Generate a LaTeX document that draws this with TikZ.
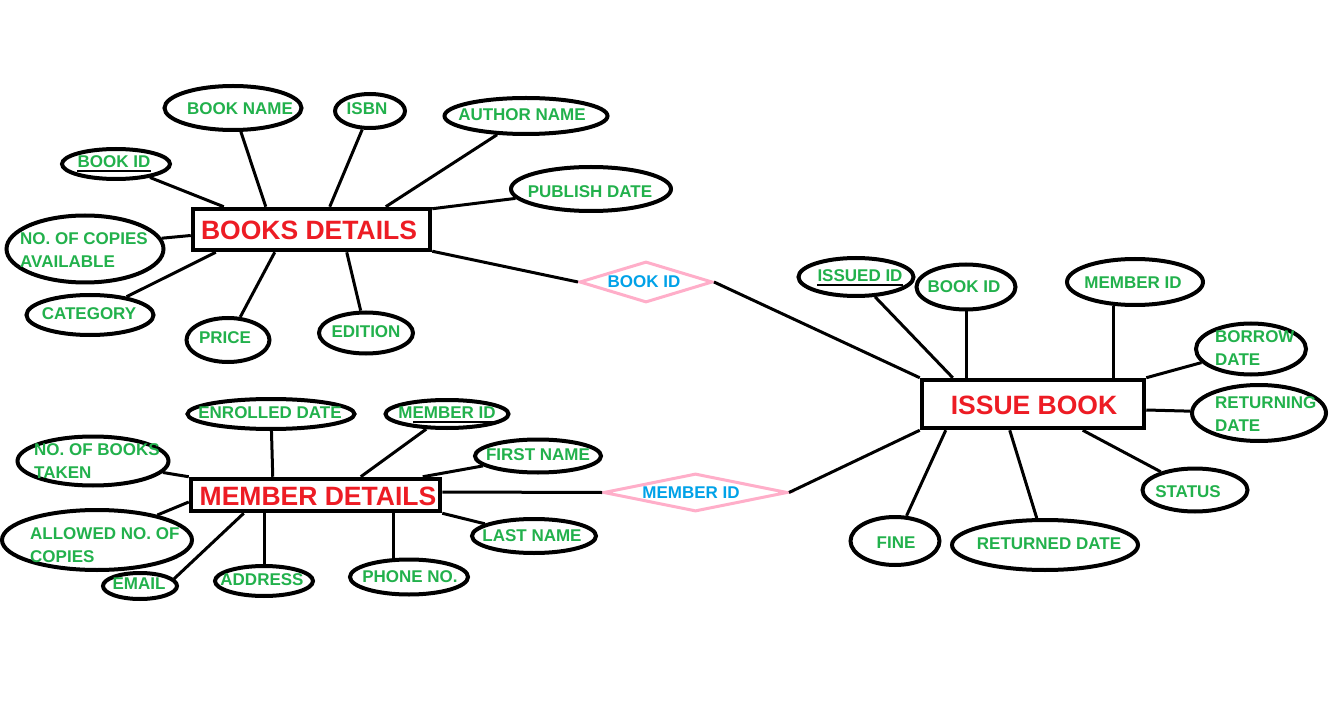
\documentclass[tikz,border=0pt]{standalone}
\usepackage{fontspec}
\setmainfont{Liberation Sans}
\usetikzlibrary{shapes.geometric}
\definecolor{tgreen}{HTML}{22B14C}
\definecolor{tred}{HTML}{ED1C24}
\definecolor{tblue}{HTML}{00A2E8}
\definecolor{tpink}{HTML}{FFAEC9}
\begin{document}
\begin{tikzpicture}[x=1pt,y=-1pt,
  attr/.style={ellipse, draw=black, line width=4pt, inner sep=0pt},
  lbl/.style={text=tgreen, font=\fontsize{17}{23}\selectfont\bfseries, inner sep=0pt},
  mlbl/.style={lbl, align=left, anchor=west},
  ent/.style={draw=black, line width=4.5pt, fill=white, inner sep=0pt},
  etxt/.style={text=tred, font=\fontsize{26.5}{30}\selectfont\bfseries, inner sep=0pt},
  rel/.style={diamond, draw=tpink, line width=3pt, inner sep=0pt},
  rtxt/.style={text=tblue, font=\fontsize{17}{20}\selectfont\bfseries, inner sep=0pt},
  conn/.style={line width=3pt},
  uline/.style={line width=2pt}]
\useasboundingbox[fill=white] (0,0) rectangle (1344,703);

% ---------- entities ----------
\node[ent, minimum width=237pt, minimum height=41pt] (books) at (311.5,229.5) {};
\node[etxt] (bookst) at (309,230) {BOOKS DETAILS};
\node[ent, minimum width=249pt, minimum height=32pt] (member) at (315.5,495) {};
\node[etxt] (membert) at (318,496) {MEMBER DETAILS};
\node[ent, minimum width=222pt, minimum height=48pt] (issue) at (1033,404) {};
\node[etxt] (issuet) at (1034,405) {ISSUE BOOK};

% ---------- relationships ----------
\node[rel, minimum width=133pt, minimum height=41pt] (bookdia) at (646,282) {};
\node[rtxt] (bookdiat) at (644,282) {BOOK ID};
\node[rel, minimum width=184pt, minimum height=38pt] (memdia) at (695.5,492.5) {};
\node[rtxt] (memdiat) at (691,493) {MEMBER ID};

% ---------- book attributes ----------
\node[attr, minimum width=137pt, minimum height=44pt] (bname) at (233,108) {};
\node[lbl] at (240,109) {BOOK NAME};
\node[attr, minimum width=70pt, minimum height=34pt] (isbn) at (370,111) {};
\node[lbl] at (367,109) {ISBN};
\node[attr, minimum width=163pt, minimum height=36pt] (author) at (526,116) {};
\node[lbl] at (522,115) {AUTHOR NAME};
\node[attr, minimum width=108pt, minimum height=30pt] (bid) at (116,164) {};
\node[lbl] (bidt) at (114,162) {BOOK ID};
\node[attr, minimum width=160pt, minimum height=44pt] (pub) at (591,189) {};
\node[lbl] at (590,192) {PUBLISH DATE};
\node[attr, minimum width=157pt, minimum height=67pt] (copies) at (85,249) {};
\node[mlbl] at (20,250.5) {NO. OF COPIES\\AVAILABLE};
\node[attr, minimum width=127pt, minimum height=40pt] (cat) at (90,315) {};
\node[lbl] at (89,314) {CATEGORY};
\node[attr, minimum width=83pt, minimum height=44pt] (price) at (228,340) {};
\node[lbl] at (225,338) {PRICE};
\node[attr, minimum width=94pt, minimum height=41pt] (edition) at (366,333) {};
\node[lbl] at (366,332) {EDITION};

% ---------- issue attributes ----------
\node[attr, minimum width=115pt, minimum height=38pt] (issued) at (856,277) {};
\node[lbl] (issuedt) at (860,276) {ISSUED ID};
\node[attr, minimum width=99pt, minimum height=45pt] (ibid) at (966,287) {};
\node[lbl] at (964,287) {BOOK ID};
\node[attr, minimum width=136pt, minimum height=46pt] (imid) at (1135,282) {};
\node[lbl] at (1133,283) {MEMBER ID};
\node[attr, minimum width=110pt, minimum height=51pt] (borrow) at (1251,349) {};
\node[mlbl] at (1215,348.5) {BORROW\\DATE};
\node[attr, minimum width=134pt, minimum height=56pt] (returning) at (1259,413) {};
\node[mlbl] at (1215,414.5) {RETURNING\\DATE};
\node[attr, minimum width=105pt, minimum height=43pt] (status) at (1195,490) {};
\node[lbl] at (1188,492) {STATUS};
\node[attr, minimum width=186pt, minimum height=50pt] (returned) at (1045,545) {};
\node[lbl] at (1049,544) {RETURNED DATE};
\node[attr, minimum width=89pt, minimum height=48pt] (fine) at (895,541) {};
\node[lbl] at (896,543) {FINE};

% ---------- member attributes ----------
\node[attr, minimum width=167pt, minimum height=30pt] (enrolled) at (271,414) {};
\node[lbl] at (270,413) {ENROLLED DATE};
\node[attr, minimum width=123pt, minimum height=28pt] (mid) at (447,414) {};
\node[lbl] (midt) at (447,413) {MEMBER ID};
\node[attr, minimum width=151pt, minimum height=49pt] (taken) at (93,461) {};
\node[mlbl] at (34,461.5) {NO. OF BOOKS\\TAKEN};
\node[attr, minimum width=126pt, minimum height=33pt] (first) at (538,456) {};
\node[lbl] at (538,455) {FIRST NAME};
\node[attr, minimum width=190pt, minimum height=60pt] (allowed) at (97,540) {};
\node[mlbl] at (30,545.5) {ALLOWED NO. OF\\COPIES};
\node[attr, minimum width=124pt, minimum height=34pt] (last) at (534,536) {};
\node[lbl] at (532,536) {LAST NAME};
\node[attr, minimum width=74pt, minimum height=26pt] (email) at (140,586) {};
\node[lbl] at (139,584) {EMAIL};
\node[attr, minimum width=98pt, minimum height=30pt] (address) at (264,581) {};
\node[lbl] at (262,580) {ADDRESS};
\node[attr, minimum width=118pt, minimum height=35pt] (phone) at (409,577) {};
\node[lbl] at (410,577) {PHONE NO.};

% ---------- underlines (keys) ----------
\draw[uline] ([yshift=-3pt]bidt.south west) -- ([yshift=-3pt]bidt.south east);
\draw[uline] ([yshift=-3pt]issuedt.south west) -- ([yshift=-3pt]issuedt.south east);
\draw[uline] ([xshift=15pt,yshift=-3pt]midt.south west) -- ([yshift=-3pt]midt.south east);

% ---------- connectors: books ----------
\draw[conn] (bid) -- ([xshift=33pt]books.north west);
\draw[conn] (bname) -- ([xshift=75pt]books.north west);
\draw[conn] (isbn) -- ([xshift=139pt]books.north west);
\draw[conn] (author) -- ([xshift=195pt]books.north west);
\draw[conn] (pub) -- ([yshift=-2pt]books.north east);
\draw[conn] (copies.8) -- ([yshift=-6pt]books.west);
\draw[conn] (cat) -- ([xshift=25pt]books.south west);
\draw[conn] (price) -- ([xshift=84pt]books.south west);
\draw[conn] (edition) -- ([xshift=156pt]books.south west);
\draw[conn] ([yshift=1pt]books.south east) -- (bookdia.west);
\draw[conn] (bookdia.east) -- (issue.north west);

% ---------- connectors: issue ----------
\draw[conn] (issued) -- ([xshift=33pt]issue.north west);
\draw[conn] (ibid.south) -- (ibid.south |- issue.north);
\draw[conn] (imid.-132) -- (imid.-132 |- issue.north);
\draw[conn] (borrow) -- (issue.north east);
\draw[conn] (returning) -- ([yshift=-6pt]issue.east);
\draw[conn] (status) -- ([xshift=163pt]issue.south west);
\draw[conn] (returned) -- ([xshift=90pt]issue.south west);
\draw[conn] (fine) -- ([xshift=26pt]issue.south west);

% ---------- connectors: member ----------
\draw[conn] (taken) -- (member.north west);
\draw[conn] (allowed) -- ([yshift=-7pt]member.west);
\draw[conn] (enrolled) -- ([xshift=84pt]member.north west);
\draw[conn] (mid) -- ([xshift=172pt]member.north west);
\draw[conn] (first) -- ([xshift=234pt]member.north west);
\draw[conn] ([yshift=3pt]member.east) -- (memdia.west);
\draw[conn] (memdia.east) -- (issue.south west);
\draw[conn] (last) -- (member.south east);
\draw[conn] (email.12) -- ([xshift=55pt]member.south west);
\draw[conn] (address.north) -- (address.north |- member.south);
\draw[conn] (phone.130) -- (phone.130 |- member.south);
\end{tikzpicture}
\end{document}
